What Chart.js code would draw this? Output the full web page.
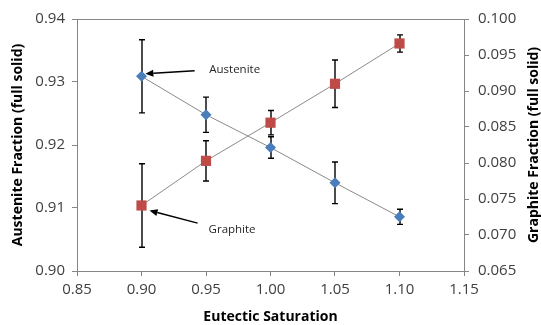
<!DOCTYPE html>
<html><head><meta charset="utf-8">
<script src="https://cdn.jsdelivr.net/npm/chart.js@4"></script>
<style>html,body{margin:0;padding:0;background:#fff;overflow:hidden}#wrap{width:541px;height:325px}</style>
</head><body><div id="wrap"><canvas id="c" width="541" height="325"></canvas></div>
<script>
// ---- data ----
const eutecticSaturation = [0.90, 0.95, 1.00, 1.05, 1.10];
const austeniteFraction  = [0.9309, 0.9248, 0.9196, 0.9140, 0.9086];
const austeniteError     = [0.0058, 0.0028, 0.0017, 0.0033, 0.0012];
const graphiteFraction   = [0.0741, 0.0803, 0.0856, 0.0910, 0.0966];
const graphiteError      = [0.0058, 0.0028, 0.0017, 0.0033, 0.0012];
const seriesNames = ['Austenite', 'Graphite'];
const axisTitles = {x: 'Eutectic Saturation', y: 'Austenite Fraction (full solid)', y2: 'Graphite Fraction (full solid)'};

// callouts in data units (x, left-axis y)
const callouts = [
  {text: 'Austenite', textAt: [0.9525, 0.9320], tail: [0.9412, 0.9318], tip: [0.9030, 0.9313]},
  {text: 'Graphite',  textAt: [0.9520, 0.9066], tail: [0.9435, 0.9076], tip: [0.9062, 0.9096]}
];

const FONT = "'Open Sans', 'DejaVu Sans', sans-serif";
const tickColor = '#404040';
const axisColor = '#868686';

const pts = (xs, ys) => xs.map((x, i) => ({x, y: ys[i]}));

const errorBars = {
  id: 'errorBars',
  beforeDatasetsDraw(chart) {
    const ctx = chart.ctx, xs = chart.scales.x;
    const sets = [[chart.scales.y, austeniteFraction, austeniteError], [chart.scales.y2, graphiteFraction, graphiteError]];
    ctx.save();
    ctx.strokeStyle = '#000';
    ctx.lineWidth = 1.4;
    sets.forEach(([ys, vals, errs]) => {
      vals.forEach((v, i) => {
        const px = Math.round(xs.getPixelForValue(eutecticSaturation[i]));
        const t = ys.getPixelForValue(v + errs[i]);
        const b = ys.getPixelForValue(v - errs[i]);
        ctx.beginPath();
        ctx.moveTo(px, t); ctx.lineTo(px, b);
        ctx.moveTo(px - 3, t); ctx.lineTo(px + 3, t);
        ctx.moveTo(px - 3, b); ctx.lineTo(px + 3, b);
        ctx.stroke();
      });
    });
    ctx.restore();
  }
};

const decorations = {
  id: 'decorations',
  afterDraw(chart) {
    const ctx = chart.ctx, a = chart.chartArea;
    const xs = chart.scales.x, ys = chart.scales.y;
    ctx.save();
    // frame
    ctx.strokeStyle = axisColor; ctx.lineWidth = 1;
    ctx.strokeRect(Math.round(a.left) + 0.5, Math.round(a.top) + 0.5, Math.round(a.right - a.left), Math.round(a.bottom - a.top));
    // callouts
    callouts.forEach(c => {
      const x1 = xs.getPixelForValue(c.tail[0]), y1 = ys.getPixelForValue(c.tail[1]);
      const x2 = xs.getPixelForValue(c.tip[0]),  y2 = ys.getPixelForValue(c.tip[1]);
      const ang = Math.atan2(y2 - y1, x2 - x1);
      const hl = 8, hw = 3.5;
      const bx = x2 - hl * Math.cos(ang), by = y2 - hl * Math.sin(ang);
      ctx.strokeStyle = '#000'; ctx.fillStyle = '#000'; ctx.lineWidth = 1.5;
      ctx.beginPath(); ctx.moveTo(x1, y1); ctx.lineTo(bx, by); ctx.stroke();
      ctx.beginPath();
      ctx.moveTo(x2, y2);
      ctx.lineTo(bx + hw * Math.sin(ang), by - hw * Math.cos(ang));
      ctx.lineTo(bx - hw * Math.sin(ang), by + hw * Math.cos(ang));
      ctx.closePath(); ctx.fill();
      ctx.fillStyle = '#262626';
      ctx.font = '11.5px ' + FONT;
      ctx.textAlign = 'left'; ctx.textBaseline = 'middle';
      ctx.fillText(c.text, xs.getPixelForValue(c.textAt[0]), ys.getPixelForValue(c.textAt[1]));
    });
    // right axis title (reads bottom to top)
    ctx.translate(534, (a.top + a.bottom) / 2);
    ctx.rotate(-Math.PI / 2);
    ctx.fillStyle = '#000';
    ctx.font = 'bold 14px ' + FONT;
    ctx.textAlign = 'center'; ctx.textBaseline = 'middle';
    ctx.fillText(axisTitles.y2, 0, 0);
    ctx.restore();
  }
};

const tickFont = {family: FONT, size: 15};
const titleFont = {family: FONT, size: 14, weight: 'bold'};
const gridOpts = {display: true, drawOnChartArea: false, drawTicks: true, tickLength: 5, color: axisColor};

new Chart(document.getElementById('c'), {
  type: 'line',
  data: {
    datasets: [
      {label: seriesNames[0], data: pts(eutecticSaturation, austeniteFraction), yAxisID: 'y',
       borderColor: '#8a8a8a', borderWidth: 1, pointStyle: 'rectRot', pointRadius: 5.5,
       pointBackgroundColor: '#4A7EBB', pointBorderColor: '#4A7EBB', pointBorderWidth: 0, tension: 0},
      {label: seriesNames[1], data: pts(eutecticSaturation, graphiteFraction), yAxisID: 'y2',
       borderColor: '#8a8a8a', borderWidth: 1, pointStyle: 'rect', pointRadius: 7.2,
       pointBackgroundColor: '#BE4B48', pointBorderColor: '#BE4B48', pointBorderWidth: 0, tension: 0}
    ]
  },
  options: {
    responsive: false, animation: false, devicePixelRatio: 1,
    layout: {padding: {top: 19, left: 0, right: 0, bottom: 0}},
    plugins: {legend: {display: false}, tooltip: {enabled: false}},
    scales: {
      x: {type: 'linear', position: 'bottom', min: 0.85, max: 1.15,
          ticks: {stepSize: 0.05, callback: v => v.toFixed(2), font: tickFont, color: tickColor, padding: 5, maxRotation: 0},
          grid: gridOpts, border: {color: axisColor},
          title: {display: true, text: axisTitles.x, font: titleFont, color: '#000', padding: {top: 0, bottom: 0}},
          afterFit: s => { s.height = 54; }},
      y: {type: 'linear', position: 'left', min: 0.90, max: 0.94,
          ticks: {stepSize: 0.01, callback: v => v.toFixed(2), font: tickFont, color: tickColor, padding: 7},
          grid: gridOpts, border: {color: axisColor},
          title: {display: true, text: axisTitles.y, font: titleFont, color: '#000', padding: {top: 10, bottom: 0}},
          afterFit: s => { s.width = 77; }},
      y2: {type: 'linear', position: 'right', min: 0.065, max: 0.100,
          ticks: {stepSize: 0.005, callback: v => v.toFixed(3), font: tickFont, color: tickColor, padding: 9},
          grid: gridOpts, border: {color: axisColor},
          afterFit: s => { s.width = 77; }}
    }
  },
  plugins: [errorBars, decorations]
});
</script></body></html>
